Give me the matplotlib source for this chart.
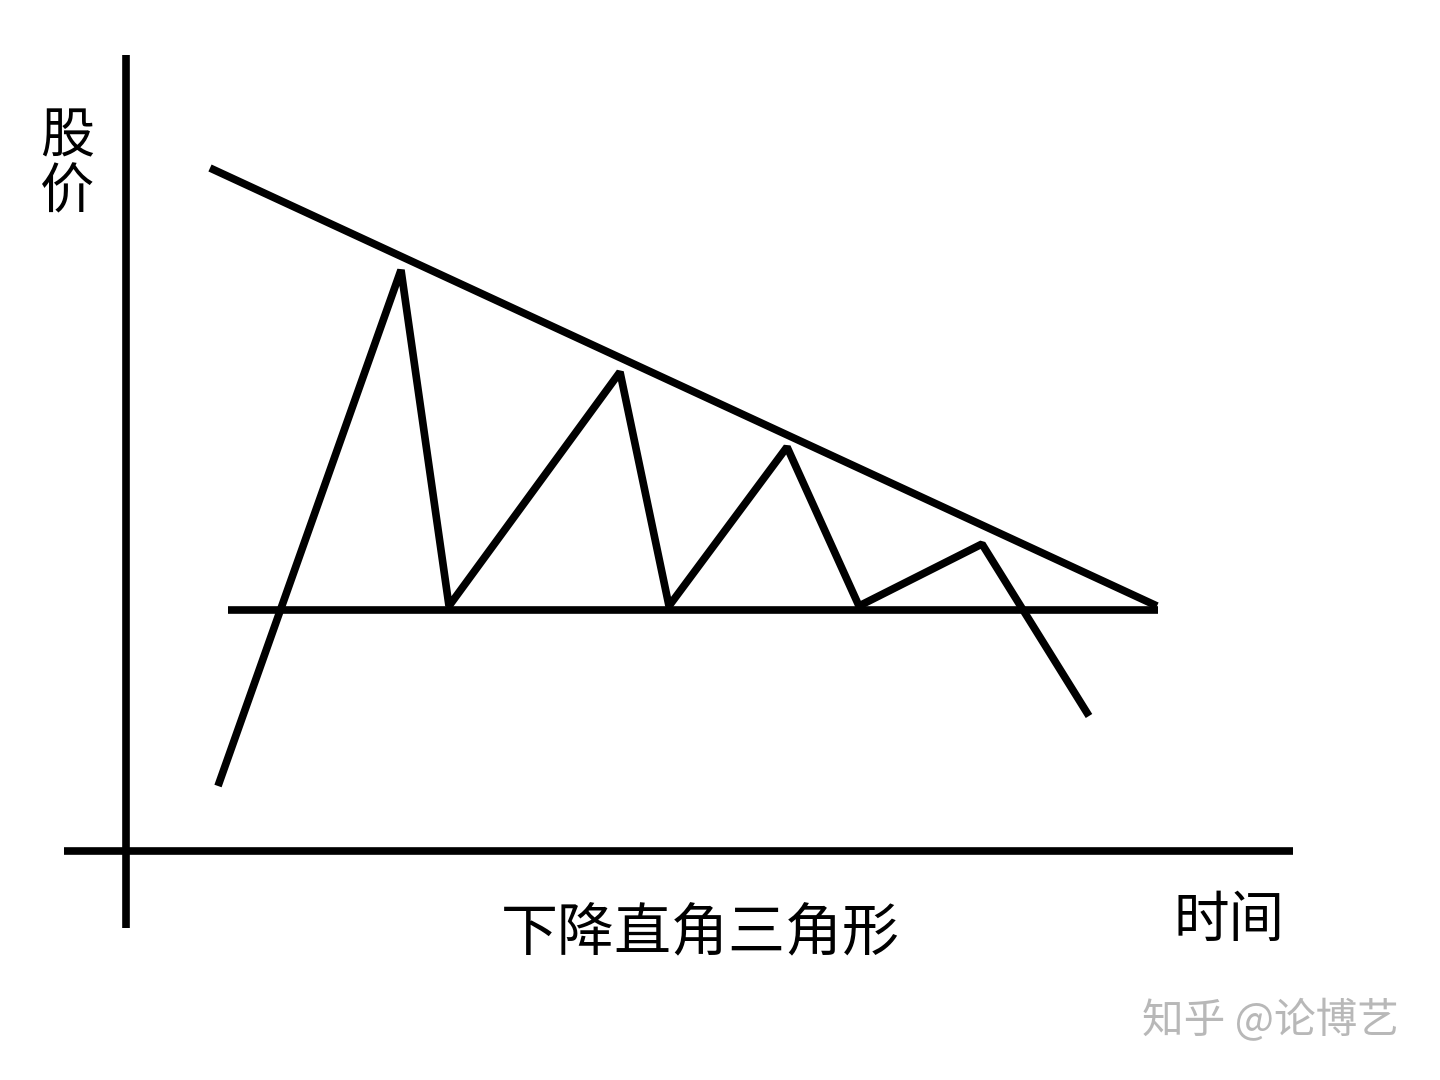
import matplotlib
matplotlib.use('Agg')
import matplotlib.pyplot as plt

plt.rcParams['font.family'] = ['Noto Sans CJK SC', 'DejaVu Sans']

# price path (x, y in picture units, y grows downward)
price_x = [218, 401, 449, 620, 669, 787, 859, 982, 1089]
price_y = [786, 270, 606, 372, 606, 447, 606, 544, 716]

# falling resistance line and flat support line
trend_x = [210, 1157]
trend_y = [168, 606]
support_x = [228, 1158]
support_y = [610, 610]

# axes drawn by hand
yaxis_x = [126, 126]
yaxis_y = [55, 928]
xaxis_x = [64, 1293]
xaxis_y = [851, 851]

fig = plt.figure(figsize=(14.4, 10.8), dpi=100)
ax = fig.add_axes([0, 0, 1, 1])
ax.set_xlim(0, 1440)
ax.set_ylim(1080, 0)
ax.axis('off')

lw = 5.5
ax.plot(yaxis_x, yaxis_y, color='black', lw=lw, solid_capstyle='butt')
ax.plot(xaxis_x, xaxis_y, color='black', lw=lw, solid_capstyle='butt')
ax.plot(trend_x, trend_y, color='black', lw=lw, solid_capstyle='butt')
ax.plot(support_x, support_y, color='black', lw=lw, solid_capstyle='butt')
ax.plot(price_x, price_y, color='black', lw=lw, solid_joinstyle='bevel', solid_capstyle='butt')

ax.text(67, 137, '股', fontsize=39, ha='center', va='center', fontweight='medium')
ax.text(67, 193, '价', fontsize=39, ha='center', va='center', fontweight='medium')
ax.text(1229, 921, '时间', fontsize=40, ha='center', va='center', fontweight='medium')
ax.text(700, 934, '下降直角三角形', fontsize=41, ha='center', va='center', fontweight='medium')
ax.text(1270, 1021, '知乎 @论博艺', fontsize=30, ha='center', va='center', color='#b8b8b8')

fig.savefig('out.png', dpi=100, facecolor='white')
